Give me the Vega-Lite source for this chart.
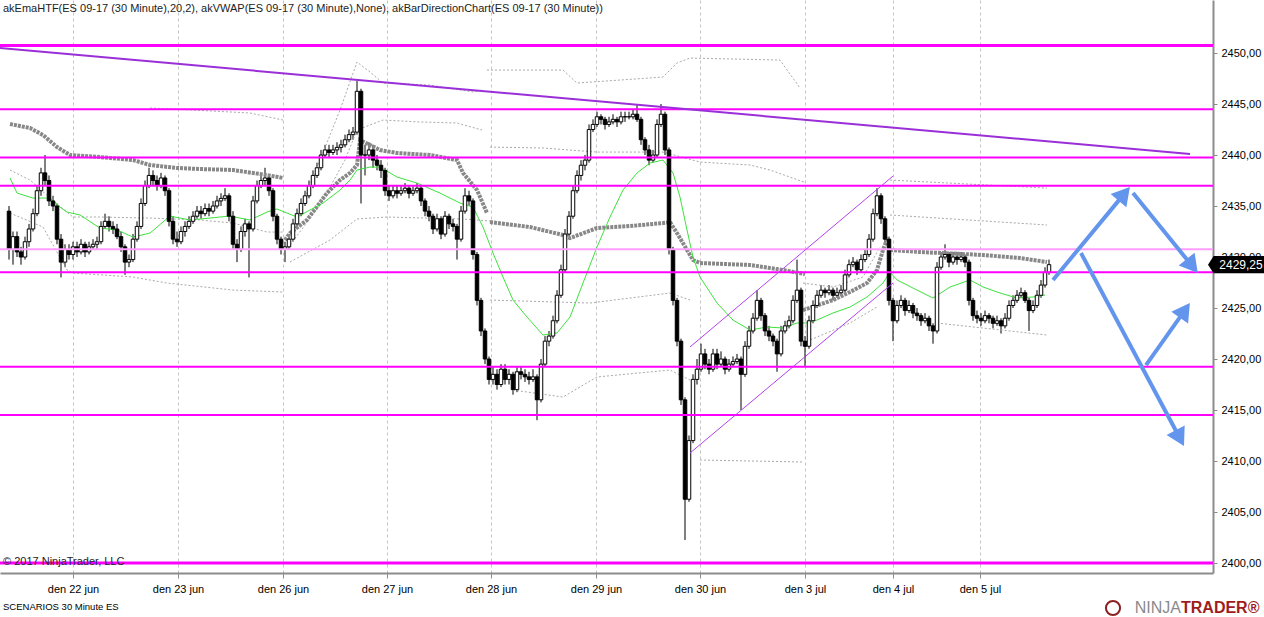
{
"$schema": "https://vega.github.io/schema/vega-lite/v6.json",
"width": 1213, "height": 573,
"autosize": "none",
"padding": {"left": 0, "top": 0, "right": 51, "bottom": 44},
"background": "white",
"config": {"font": "Liberation Sans", "view": {"stroke": null}, "scale": {"continuousPadding": 0}},
"datasets": {
"candles": [
{"i":-16,"o":2434.5,"h":2435,"l":2429.75,"c":2430.75},
{"i":-15,"o":2430.75,"h":2432.5,"l":2429.25,"c":2432},
{"i":-14,"o":2432,"h":2432.5,"l":2430,"c":2430.5},
{"i":-13,"o":2430.5,"h":2431,"l":2429.25,"c":2430},
{"i":-12,"o":2430,"h":2432,"l":2429.75,"c":2431.5},
{"i":-11,"o":2431.5,"h":2433.25,"l":2431,"c":2432.75},
{"i":-10,"o":2432.75,"h":2434.75,"l":2432.5,"c":2434.25},
{"i":-9,"o":2434.25,"h":2437,"l":2434,"c":2436.5},
{"i":-8,"o":2436.5,"h":2438.75,"l":2436,"c":2438.25},
{"i":-7,"o":2438.25,"h":2440,"l":2437,"c":2437.5},
{"i":-6,"o":2437.5,"h":2438,"l":2435,"c":2435.5},
{"i":-5,"o":2435.5,"h":2436,"l":2434.5,"c":2435},
{"i":-4,"o":2435,"h":2435.25,"l":2431.25,"c":2431.75},
{"i":-3,"o":2431.75,"h":2432.25,"l":2428,"c":2429.5},
{"i":-2,"o":2429.5,"h":2431.25,"l":2429,"c":2430.75},
{"i":-1,"o":2430.75,"h":2431.25,"l":2429.75,"c":2430.25},
{"i":0,"o":2430.25,"h":2431.5,"l":2429.75,"c":2431},
{"i":1,"o":2431,"h":2431.5,"l":2430,"c":2430.5},
{"i":2,"o":2430.5,"h":2431.75,"l":2430.25,"c":2431.25},
{"i":3,"o":2431.25,"h":2431.5,"l":2430,"c":2430.5},
{"i":4,"o":2430.5,"h":2431.5,"l":2430.25,"c":2431},
{"i":5,"o":2431,"h":2431.75,"l":2430.75,"c":2431.25},
{"i":6,"o":2431.25,"h":2432,"l":2430.75,"c":2431.5},
{"i":7,"o":2431.5,"h":2433.5,"l":2431.25,"c":2433},
{"i":8,"o":2433,"h":2434.25,"l":2432.75,"c":2433.5},
{"i":9,"o":2433.5,"h":2434,"l":2432.5,"c":2433},
{"i":10,"o":2433,"h":2433.5,"l":2432.25,"c":2432.75},
{"i":11,"o":2432.75,"h":2433.25,"l":2431.75,"c":2432},
{"i":12,"o":2432,"h":2432.5,"l":2430.5,"c":2431},
{"i":13,"o":2431,"h":2431.25,"l":2428.25,"c":2429.5},
{"i":14,"o":2429.5,"h":2430.25,"l":2429,"c":2429.75},
{"i":15,"o":2429.75,"h":2432.25,"l":2429.5,"c":2431.75},
{"i":16,"o":2431.75,"h":2433.5,"l":2431.5,"c":2433},
{"i":17,"o":2433,"h":2435.75,"l":2432.75,"c":2435.25},
{"i":18,"o":2435.25,"h":2437.5,"l":2435,"c":2437},
{"i":19,"o":2437,"h":2438.75,"l":2436.75,"c":2438},
{"i":20,"o":2438,"h":2438.5,"l":2437,"c":2437.5},
{"i":21,"o":2437.5,"h":2438,"l":2436.5,"c":2437},
{"i":22,"o":2437,"h":2438.25,"l":2436.75,"c":2437.75},
{"i":23,"o":2437.75,"h":2438,"l":2436,"c":2436.5},
{"i":24,"o":2436.5,"h":2436.75,"l":2433,"c":2433.5},
{"i":25,"o":2433.5,"h":2434,"l":2431.25,"c":2431.75},
{"i":26,"o":2431.75,"h":2432.5,"l":2431,"c":2431.5},
{"i":27,"o":2431.5,"h":2433,"l":2431.25,"c":2432.5},
{"i":28,"o":2432.5,"h":2433.5,"l":2432,"c":2433},
{"i":29,"o":2433,"h":2434,"l":2432.75,"c":2433.5},
{"i":30,"o":2433.5,"h":2434.5,"l":2433.25,"c":2434},
{"i":31,"o":2434,"h":2435,"l":2433.75,"c":2434.5},
{"i":32,"o":2434.5,"h":2435,"l":2433.75,"c":2434.25},
{"i":33,"o":2434.25,"h":2435.25,"l":2434,"c":2434.75},
{"i":34,"o":2434.75,"h":2435.25,"l":2434,"c":2434.5},
{"i":35,"o":2434.5,"h":2435.5,"l":2434.25,"c":2435},
{"i":36,"o":2435,"h":2436,"l":2434.75,"c":2435.5},
{"i":37,"o":2435.5,"h":2436.25,"l":2435,"c":2435.75},
{"i":38,"o":2435.75,"h":2436.75,"l":2435.5,"c":2436},
{"i":39,"o":2436,"h":2436.25,"l":2433.5,"c":2434},
{"i":40,"o":2434,"h":2434.5,"l":2430.75,"c":2431.25},
{"i":41,"o":2431.25,"h":2431.75,"l":2429.5,"c":2430.75},
{"i":42,"o":2430.75,"h":2433,"l":2430.5,"c":2432.5},
{"i":43,"o":2432.5,"h":2433.75,"l":2432,"c":2433.25},
{"i":44,"o":2433.25,"h":2433.5,"l":2428,"c":2432.75},
{"i":45,"o":2432.75,"h":2436,"l":2432.5,"c":2435.5},
{"i":46,"o":2435.5,"h":2437.5,"l":2435.25,"c":2437},
{"i":47,"o":2437,"h":2438,"l":2436.75,"c":2437.5},
{"i":48,"o":2437.5,"h":2438.75,"l":2437,"c":2437.75},
{"i":49,"o":2437.75,"h":2438,"l":2436,"c":2436.5},
{"i":50,"o":2436.5,"h":2436.75,"l":2433.5,"c":2434},
{"i":51,"o":2434,"h":2434.25,"l":2431.25,"c":2431.75},
{"i":52,"o":2431.75,"h":2432,"l":2430.25,"c":2430.75},
{"i":53,"o":2430.75,"h":2431.5,"l":2429.5,"c":2431},
{"i":54,"o":2431,"h":2432.25,"l":2430.75,"c":2431.75},
{"i":55,"o":2431.75,"h":2433.75,"l":2431.5,"c":2433.25},
{"i":56,"o":2433.25,"h":2434.75,"l":2433,"c":2434.25},
{"i":57,"o":2434.25,"h":2435.75,"l":2434,"c":2435.25},
{"i":58,"o":2435.25,"h":2436.5,"l":2435,"c":2436},
{"i":59,"o":2436,"h":2437.5,"l":2435.75,"c":2437},
{"i":60,"o":2437,"h":2438.5,"l":2436.75,"c":2438},
{"i":61,"o":2438,"h":2439.25,"l":2437.75,"c":2438.75},
{"i":62,"o":2438.75,"h":2440.5,"l":2438.5,"c":2440},
{"i":63,"o":2440,"h":2441,"l":2439.75,"c":2440.5},
{"i":64,"o":2440.5,"h":2441,"l":2439.75,"c":2440.25},
{"i":65,"o":2440.25,"h":2441,"l":2440,"c":2440.5},
{"i":66,"o":2440.5,"h":2441.25,"l":2440,"c":2440.75},
{"i":67,"o":2440.75,"h":2441.5,"l":2440.25,"c":2441},
{"i":68,"o":2441,"h":2442,"l":2440.75,"c":2441.5},
{"i":69,"o":2441.5,"h":2442.5,"l":2441.25,"c":2442},
{"i":70,"o":2442,"h":2442.75,"l":2441.5,"c":2442.25},
{"i":71,"o":2442.25,"h":2447.25,"l":2442,"c":2446.25},
{"i":72,"o":2446.25,"h":2446.5,"l":2435.25,"c":2440},
{"i":73,"o":2440,"h":2441,"l":2438,"c":2440},
{"i":74,"o":2440,"h":2441.25,"l":2439.5,"c":2440.5},
{"i":75,"o":2440.5,"h":2441,"l":2438.75,"c":2439.5},
{"i":76,"o":2439.5,"h":2440,"l":2438.5,"c":2439},
{"i":77,"o":2439,"h":2439.5,"l":2437.75,"c":2438.5},
{"i":78,"o":2438.5,"h":2438.75,"l":2436,"c":2436.5},
{"i":79,"o":2436.5,"h":2437,"l":2435.5,"c":2436},
{"i":80,"o":2436,"h":2437,"l":2435.75,"c":2436.5},
{"i":81,"o":2436.5,"h":2437,"l":2435.75,"c":2436.25},
{"i":82,"o":2436.25,"h":2437,"l":2436,"c":2436.5},
{"i":83,"o":2436.5,"h":2437.25,"l":2436.25,"c":2436.75},
{"i":84,"o":2436.75,"h":2437,"l":2435.75,"c":2436.25},
{"i":85,"o":2436.25,"h":2437,"l":2436,"c":2436.5},
{"i":86,"o":2436.5,"h":2437.25,"l":2436.25,"c":2436.75},
{"i":87,"o":2436.75,"h":2437,"l":2435,"c":2435.5},
{"i":88,"o":2435.5,"h":2435.75,"l":2434,"c":2434.5},
{"i":89,"o":2434.5,"h":2435,"l":2433.5,"c":2434},
{"i":90,"o":2434,"h":2434.25,"l":2432.25,"c":2432.75},
{"i":91,"o":2432.75,"h":2434.25,"l":2432.5,"c":2433.75},
{"i":92,"o":2433.75,"h":2434,"l":2431.75,"c":2432.25},
{"i":93,"o":2432.25,"h":2434.5,"l":2432,"c":2434},
{"i":94,"o":2434,"h":2434.25,"l":2432.75,"c":2433.25},
{"i":95,"o":2433.25,"h":2433.75,"l":2432.5,"c":2433},
{"i":96,"o":2433,"h":2433.25,"l":2429.75,"c":2431.75},
{"i":97,"o":2431.75,"h":2435,"l":2431.5,"c":2434.5},
{"i":98,"o":2434.5,"h":2436.75,"l":2434.25,"c":2436},
{"i":99,"o":2436,"h":2436.5,"l":2435,"c":2435.5},
{"i":100,"o":2435.5,"h":2435.75,"l":2429.75,"c":2430.25},
{"i":101,"o":2430.25,"h":2430.5,"l":2425.25,"c":2425.75},
{"i":102,"o":2425.75,"h":2426,"l":2422.25,"c":2422.75},
{"i":103,"o":2422.75,"h":2423,"l":2419.5,"c":2420},
{"i":104,"o":2420,"h":2420.25,"l":2417.5,"c":2418},
{"i":105,"o":2418,"h":2419.25,"l":2417.5,"c":2418.5},
{"i":106,"o":2418.5,"h":2419,"l":2417,"c":2417.5},
{"i":107,"o":2417.5,"h":2419.5,"l":2417.25,"c":2419},
{"i":108,"o":2419,"h":2419.5,"l":2417.5,"c":2418},
{"i":109,"o":2418,"h":2419,"l":2417.5,"c":2418.5},
{"i":110,"o":2418.5,"h":2418.75,"l":2416.5,"c":2417},
{"i":111,"o":2417,"h":2419.25,"l":2416.75,"c":2418.75},
{"i":112,"o":2418.75,"h":2419.25,"l":2418,"c":2418.5},
{"i":113,"o":2418.5,"h":2419,"l":2417.75,"c":2418.25},
{"i":114,"o":2418.25,"h":2418.75,"l":2417.5,"c":2418},
{"i":115,"o":2418,"h":2419,"l":2417.75,"c":2418.25},
{"i":116,"o":2418.25,"h":2418.5,"l":2414,"c":2416},
{"i":117,"o":2416,"h":2420,"l":2415.75,"c":2419.5},
{"i":118,"o":2419.5,"h":2422.25,"l":2419.25,"c":2421.75},
{"i":119,"o":2421.75,"h":2422.75,"l":2421.25,"c":2422.25},
{"i":120,"o":2422.25,"h":2424.25,"l":2422,"c":2423.75},
{"i":121,"o":2423.75,"h":2426.75,"l":2423.5,"c":2426.25},
{"i":122,"o":2426.25,"h":2429.25,"l":2426,"c":2428.75},
{"i":123,"o":2428.75,"h":2432.75,"l":2428.5,"c":2432.25},
{"i":124,"o":2432.25,"h":2434.5,"l":2432,"c":2434},
{"i":125,"o":2434,"h":2437,"l":2433.75,"c":2436.5},
{"i":126,"o":2436.5,"h":2438.5,"l":2436.25,"c":2438},
{"i":127,"o":2438,"h":2439.5,"l":2437.5,"c":2439},
{"i":128,"o":2439,"h":2440,"l":2438.5,"c":2439.5},
{"i":129,"o":2439.5,"h":2443,"l":2439.25,"c":2442.5},
{"i":130,"o":2442.5,"h":2443.5,"l":2442.25,"c":2443},
{"i":131,"o":2443,"h":2444.25,"l":2442.75,"c":2443.75},
{"i":132,"o":2443.75,"h":2444,"l":2443,"c":2443.5},
{"i":133,"o":2443.5,"h":2443.75,"l":2442.5,"c":2443},
{"i":134,"o":2443,"h":2443.75,"l":2442.75,"c":2443.25},
{"i":135,"o":2443.25,"h":2444,"l":2443,"c":2443.5},
{"i":136,"o":2443.5,"h":2443.75,"l":2442.75,"c":2443.25},
{"i":137,"o":2443.25,"h":2444.25,"l":2443,"c":2443.75},
{"i":138,"o":2443.75,"h":2444.25,"l":2443.25,"c":2443.75},
{"i":139,"o":2443.75,"h":2444.25,"l":2443.5,"c":2443.75},
{"i":140,"o":2443.75,"h":2444.5,"l":2443.5,"c":2444},
{"i":141,"o":2444,"h":2445,"l":2443.25,"c":2443.5},
{"i":142,"o":2443.5,"h":2443.75,"l":2441,"c":2441.5},
{"i":143,"o":2441.5,"h":2441.75,"l":2440,"c":2440.5},
{"i":144,"o":2440.5,"h":2441,"l":2439,"c":2439.5},
{"i":145,"o":2439.5,"h":2440.5,"l":2439.25,"c":2440},
{"i":146,"o":2440,"h":2443.5,"l":2439.75,"c":2443},
{"i":147,"o":2443,"h":2445,"l":2442.75,"c":2444},
{"i":148,"o":2444,"h":2444.25,"l":2440,"c":2440.5},
{"i":149,"o":2440.5,"h":2440.75,"l":2430.25,"c":2430.75},
{"i":150,"o":2430.75,"h":2431,"l":2425.25,"c":2425.75},
{"i":151,"o":2425.75,"h":2426,"l":2421.25,"c":2421.75},
{"i":152,"o":2421.75,"h":2422,"l":2415.5,"c":2416},
{"i":153,"o":2416,"h":2416.25,"l":2402.25,"c":2406.25},
{"i":154,"o":2406.25,"h":2412.5,"l":2406,"c":2412},
{"i":155,"o":2412,"h":2418.5,"l":2411.75,"c":2418},
{"i":156,"o":2418,"h":2420,"l":2417.5,"c":2419},
{"i":157,"o":2419,"h":2421.5,"l":2418.75,"c":2420.5},
{"i":158,"o":2420.5,"h":2421,"l":2419,"c":2419.5},
{"i":159,"o":2419.5,"h":2420,"l":2418.5,"c":2419},
{"i":160,"o":2419,"h":2421,"l":2418.75,"c":2420.5},
{"i":161,"o":2420.5,"h":2421,"l":2419,"c":2419.5},
{"i":162,"o":2419.5,"h":2420.75,"l":2419.25,"c":2420},
{"i":163,"o":2420,"h":2420.25,"l":2418.5,"c":2419},
{"i":164,"o":2419,"h":2420,"l":2418.75,"c":2419.5},
{"i":165,"o":2419.5,"h":2420.25,"l":2419.25,"c":2419.75},
{"i":166,"o":2419.75,"h":2420.5,"l":2419.5,"c":2420},
{"i":167,"o":2420,"h":2420.25,"l":2415,"c":2418.5},
{"i":168,"o":2418.5,"h":2421.75,"l":2418.25,"c":2421.25},
{"i":169,"o":2421.25,"h":2423.25,"l":2421,"c":2422.75},
{"i":170,"o":2422.75,"h":2424.5,"l":2422.5,"c":2424},
{"i":171,"o":2424,"h":2426.75,"l":2423.75,"c":2425.75},
{"i":172,"o":2425.75,"h":2426,"l":2423.75,"c":2424.25},
{"i":173,"o":2424.25,"h":2424.5,"l":2422.25,"c":2422.75},
{"i":174,"o":2422.75,"h":2423.25,"l":2421.75,"c":2422.25},
{"i":175,"o":2422.25,"h":2422.5,"l":2421.25,"c":2421.75},
{"i":176,"o":2421.75,"h":2422,"l":2418.75,"c":2420.5},
{"i":177,"o":2420.5,"h":2423.25,"l":2420.25,"c":2422.75},
{"i":178,"o":2422.75,"h":2423.75,"l":2422.5,"c":2423.25},
{"i":179,"o":2423.25,"h":2424.25,"l":2423,"c":2423.75},
{"i":180,"o":2423.75,"h":2426.25,"l":2423.5,"c":2425.75},
{"i":181,"o":2425.75,"h":2429.75,"l":2425.5,"c":2426.75},
{"i":182,"o":2426.75,"h":2427,"l":2421.25,"c":2421.75},
{"i":183,"o":2421.75,"h":2422.25,"l":2419.25,"c":2421.25},
{"i":184,"o":2421.25,"h":2424.25,"l":2421,"c":2423.75},
{"i":185,"o":2423.75,"h":2425.75,"l":2423.5,"c":2425.25},
{"i":186,"o":2425.25,"h":2426.75,"l":2425,"c":2426.25},
{"i":187,"o":2426.25,"h":2427.25,"l":2426,"c":2426.75},
{"i":188,"o":2426.75,"h":2427,"l":2426,"c":2426.5},
{"i":189,"o":2426.5,"h":2427.25,"l":2426.25,"c":2426.75},
{"i":190,"o":2426.75,"h":2427,"l":2425.75,"c":2426.25},
{"i":191,"o":2426.25,"h":2427,"l":2426,"c":2426.5},
{"i":192,"o":2426.5,"h":2427.25,"l":2426.25,"c":2426.75},
{"i":193,"o":2426.75,"h":2428.75,"l":2426.5,"c":2428.25},
{"i":194,"o":2428.25,"h":2429.75,"l":2428,"c":2429.25},
{"i":195,"o":2429.25,"h":2430,"l":2429,"c":2429.5},
{"i":196,"o":2429.5,"h":2429.75,"l":2428.25,"c":2428.75},
{"i":197,"o":2428.75,"h":2430.25,"l":2428.5,"c":2429.75},
{"i":198,"o":2429.75,"h":2430.75,"l":2429.5,"c":2430.25},
{"i":199,"o":2430.25,"h":2432.25,"l":2430,"c":2431.75},
{"i":200,"o":2431.75,"h":2434.75,"l":2431.5,"c":2434.25},
{"i":201,"o":2434.25,"h":2436.75,"l":2434,"c":2436},
{"i":202,"o":2436,"h":2436.25,"l":2433.25,"c":2433.75},
{"i":203,"o":2433.75,"h":2434,"l":2431.25,"c":2431.75},
{"i":204,"o":2431.75,"h":2432,"l":2425.25,"c":2425.75},
{"i":205,"o":2425.75,"h":2426,"l":2421.75,"c":2423.75},
{"i":206,"o":2423.75,"h":2425.75,"l":2423.5,"c":2425.25},
{"i":207,"o":2425.25,"h":2426.25,"l":2425,"c":2425.75},
{"i":208,"o":2425.75,"h":2426,"l":2424.25,"c":2424.75},
{"i":209,"o":2424.75,"h":2425.75,"l":2424.5,"c":2425.25},
{"i":210,"o":2425.25,"h":2425.5,"l":2424,"c":2424.5},
{"i":211,"o":2424.5,"h":2425,"l":2423.75,"c":2424.25},
{"i":212,"o":2424.25,"h":2424.5,"l":2423.25,"c":2423.75},
{"i":213,"o":2423.75,"h":2424.5,"l":2423.5,"c":2424},
{"i":214,"o":2424,"h":2424.25,"l":2422.75,"c":2423.25},
{"i":215,"o":2423.25,"h":2423.5,"l":2421.5,"c":2422.75},
{"i":216,"o":2422.75,"h":2429.5,"l":2422.5,"c":2429},
{"i":217,"o":2429,"h":2430.5,"l":2428.75,"c":2430},
{"i":218,"o":2430,"h":2431.25,"l":2429.75,"c":2430.25},
{"i":219,"o":2430.25,"h":2430.5,"l":2429,"c":2429.5},
{"i":220,"o":2429.5,"h":2430.5,"l":2429.25,"c":2430},
{"i":221,"o":2430,"h":2430.5,"l":2429.25,"c":2429.75},
{"i":222,"o":2429.75,"h":2430.5,"l":2429.5,"c":2430},
{"i":223,"o":2430,"h":2430.25,"l":2429,"c":2429.5},
{"i":224,"o":2429.5,"h":2429.75,"l":2425.25,"c":2425.75},
{"i":225,"o":2425.75,"h":2426,"l":2423.75,"c":2424.25},
{"i":226,"o":2424.25,"h":2424.75,"l":2423.5,"c":2424},
{"i":227,"o":2424,"h":2424.5,"l":2423.25,"c":2423.75},
{"i":228,"o":2423.75,"h":2424.75,"l":2423.5,"c":2424.25},
{"i":229,"o":2424.25,"h":2424.5,"l":2423.5,"c":2424},
{"i":230,"o":2424,"h":2424.25,"l":2423,"c":2423.5},
{"i":231,"o":2423.5,"h":2424.25,"l":2423.25,"c":2423.75},
{"i":232,"o":2423.75,"h":2424,"l":2422.5,"c":2423.25},
{"i":233,"o":2423.25,"h":2424.5,"l":2423,"c":2424},
{"i":234,"o":2424,"h":2425.75,"l":2423.75,"c":2425.25},
{"i":235,"o":2425.25,"h":2426.25,"l":2425,"c":2425.75},
{"i":236,"o":2425.75,"h":2426.75,"l":2425.5,"c":2426.25},
{"i":237,"o":2426.25,"h":2427,"l":2426,"c":2426.5},
{"i":238,"o":2426.5,"h":2426.75,"l":2425.5,"c":2425.75},
{"i":239,"o":2425.75,"h":2426,"l":2422.75,"c":2424.75},
{"i":240,"o":2424.75,"h":2425.75,"l":2424.5,"c":2425.25},
{"i":241,"o":2425.25,"h":2426.75,"l":2425,"c":2426.25},
{"i":242,"o":2426.25,"h":2427.75,"l":2426,"c":2427.25},
{"i":243,"o":2427.25,"h":2429,"l":2427,"c":2428.5},
{"i":244,"o":2428.5,"h":2429.75,"l":2428.25,"c":2429.25}
],
"ema": [
{"i":-15.75,"p":2437.75},{"i":-14,"p":2436.27},{"i":-10,"p":2435.78},{"i":-5.75,"p":2435.78},{"i":-3.25,"p":2434.9},{"i":-1.5,"p":2434.41},{"i":1.75,"p":2434.12},{"i":6.75,"p":2432.84},{"i":11,"p":2432.65},{"i":15,"p":2431.96},{"i":19.25,"p":2432.35},{"i":24.25,"p":2434.02},{"i":29.25,"p":2433.63},{"i":34.25,"p":2433.82},{"i":39.25,"p":2434.02},{"i":44.25,"p":2433.63},{"i":48.5,"p":2434.41},{"i":51,"p":2434.71},{"i":53.5,"p":2434.31},{"i":56,"p":2433.92},{"i":59.25,"p":2434.61},{"i":62.5,"p":2435.29},{"i":66.75,"p":2436.57},{"i":69.25,"p":2437.55},{"i":71,"p":2438.53},{"i":74.25,"p":2438.82},{"i":76.75,"p":2438.82},{"i":81,"p":2437.84},{"i":86,"p":2437.25},{"i":91.75,"p":2436.27},{"i":96.75,"p":2435.29},{"i":100,"p":2434.9},{"i":102.5,"p":2432.94},{"i":105,"p":2430.39},{"i":107.5,"p":2428.04},{"i":110,"p":2425.78},{"i":113.5,"p":2424.12},{"i":117.5,"p":2422.35},{"i":121,"p":2422.55},{"i":124.25,"p":2424.12},{"i":127.5,"p":2427.45},{"i":131,"p":2430.98},{"i":134.25,"p":2433.92},{"i":137.5,"p":2436.57},{"i":141,"p":2438.24},{"i":144.25,"p":2439.22},{"i":147.5,"p":2439.51},{"i":150,"p":2438.24},{"i":151.75,"p":2435.88},{"i":153.5,"p":2432.65},{"i":155,"p":2430},{"i":156.75,"p":2428.04},{"i":161,"p":2425.49},{"i":165,"p":2423.82},{"i":169.25,"p":2422.84},{"i":173.5,"p":2423.14},{"i":177.5,"p":2423.04},{"i":181,"p":2423.53},{"i":183.5,"p":2423.53},{"i":186,"p":2423.82},{"i":190,"p":2424.51},{"i":194.25,"p":2425.1},{"i":198.5,"p":2426.08},{"i":202.5,"p":2427.45},{"i":204.25,"p":2428.53},{"i":206,"p":2427.75},{"i":211,"p":2426.76},{"i":215,"p":2425.98},{"i":219.25,"p":2427.06},{"i":224.25,"p":2427.75},{"i":227.5,"p":2427.06},{"i":231.75,"p":2426.47},{"i":236,"p":2425.98},{"i":240,"p":2426.08},{"i":243,"p":2426.27}
],
"vwap": [
{"s":"v1","i":-15.75,"p":2443.04},{"s":"v1","i":-10.75,"p":2442.65},{"s":"v1","i":-7.5,"p":2441.96},{"s":"v1","i":-4,"p":2440.78},{"s":"v1","i":-0.75,"p":2440},{"s":"v1","i":6.75,"p":2439.8},{"s":"v1","i":15,"p":2439.51},{"s":"v1","i":19.25,"p":2439.02},{"s":"v1","i":26,"p":2438.73},{"s":"v1","i":31.75,"p":2438.63},{"s":"v1","i":40,"p":2438.53},{"s":"v1","i":45,"p":2438.24},{"s":"v1","i":48.5,"p":2438.04},{"s":"v1","i":52.5,"p":2437.75},
{"s":"v2","i":53,"p":2431.67},{"s":"v2","i":54.25,"p":2432.35},{"s":"v2","i":58.5,"p":2433.63},{"s":"v2","i":63.5,"p":2436.27},{"s":"v2","i":66.75,"p":2437.55},{"s":"v2","i":69.25,"p":2438.24},{"s":"v2","i":71,"p":2439.02},{"s":"v2","i":71.75,"p":2441.47},{"s":"v2","i":76.75,"p":2440.49},{"s":"v2","i":81,"p":2440.2},{"s":"v2","i":89.25,"p":2440},{"s":"v2","i":96,"p":2439.51},{"s":"v2","i":97.5,"p":2438.24},{"s":"v2","i":101,"p":2436.57},{"s":"v2","i":103.5,"p":2434.31},
{"s":"v3","i":104.25,"p":2433.43},{"s":"v3","i":114.25,"p":2432.94},{"s":"v3","i":122.5,"p":2432.16},{"s":"v3","i":124.25,"p":2431.86},{"s":"v3","i":131,"p":2432.84},{"s":"v3","i":139.25,"p":2433.04},{"s":"v3","i":147.5,"p":2433.33},{"s":"v3","i":149.25,"p":2433.43},{"s":"v3","i":151,"p":2432.35},{"s":"v3","i":153.5,"p":2430.69},{"s":"v3","i":155,"p":2429.71},{"s":"v3","i":156.75,"p":2429.41},{"s":"v3","i":169.25,"p":2429.22},{"s":"v3","i":177.5,"p":2428.73},{"s":"v3","i":183,"p":2428.33},
{"s":"v5","i":182.5,"p":2424.8},{"s":"v5","i":190,"p":2425.78},{"s":"v5","i":194.25,"p":2426.57},{"s":"v5","i":198.5,"p":2427.45},{"s":"v5","i":201,"p":2428.73},{"s":"v5","i":202.5,"p":2430.69},{"s":"v5","i":203.75,"p":2431.96},
{"s":"v6","i":204.25,"p":2430.69},{"s":"v6","i":211.75,"p":2430.49},{"s":"v6","i":227.5,"p":2430.2},{"s":"v6","i":236.75,"p":2429.9},{"s":"v6","i":243.5,"p":2429.51}
],
"bands": [
{"s":"b1","i":-15.75,"p":2438.53},{"s":"b1","i":-10.75,"p":2437.55},{"s":"b1","i":-5.75,"p":2435.78},{"s":"b1","i":0,"p":2433.92},{"s":"b1","i":6.75,"p":2433.92},{"s":"b1","i":19.25,"p":2433.82},{"s":"b1","i":31.75,"p":2433.63},{"s":"b1","i":40,"p":2433.33},{"s":"b1","i":48.5,"p":2432.45},{"s":"b1","i":52.5,"p":2432.45},
{"s":"b2","i":-15.75,"p":2434.31},{"s":"b2","i":-7.5,"p":2432.94},{"s":"b2","i":-1.5,"p":2428.73},{"s":"b2","i":0,"p":2428.43},{"s":"b2","i":15,"p":2428.04},{"s":"b2","i":23.5,"p":2427.45},{"s":"b2","i":40,"p":2426.76},{"s":"b2","i":52.5,"p":2426.57},
{"s":"b3","i":19.25,"p":2444.61},{"s":"b3","i":30,"p":2444.41},{"s":"b3","i":44.25,"p":2444.12},{"s":"b3","i":52.5,"p":2443.43},
{"s":"b4","i":54.25,"p":2432.16},{"s":"b4","i":56.75,"p":2434.61},{"s":"b4","i":61.75,"p":2439.51},{"s":"b4","i":66.75,"p":2444.41},{"s":"b4","i":71,"p":2449.12},{"s":"b4","i":74.25,"p":2448.14},{"s":"b4","i":77.5,"p":2447.06},{"s":"b4","i":89.25,"p":2446.86},{"s":"b4","i":100,"p":2446.18},{"s":"b4","i":102.25,"p":2446.37},
{"s":"b5","i":54.25,"p":2431.18},{"s":"b5","i":61.75,"p":2435.1},{"s":"b5","i":68,"p":2439.51},{"s":"b5","i":71,"p":2442.45},{"s":"b5","i":77.5,"p":2443.43},{"s":"b5","i":86.75,"p":2443.24},{"s":"b5","i":96,"p":2443.14},{"s":"b5","i":102.25,"p":2442.45},
{"s":"b6","i":54.25,"p":2429.51},{"s":"b6","i":64.25,"p":2431.67},{"s":"b6","i":71,"p":2433.73},{"s":"b6","i":78.5,"p":2433.92},{"s":"b6","i":97.5,"p":2433.73},{"s":"b6","i":104.25,"p":2433.53},
{"s":"b7","i":103.5,"p":2448.33},{"s":"b7","i":122.5,"p":2448.33},{"s":"b7","i":126,"p":2447.06},{"s":"b7","i":136.75,"p":2447.35},{"s":"b7","i":147.5,"p":2447.65},{"s":"b7","i":151,"p":2449.02},{"s":"b7","i":154.25,"p":2449.51},{"s":"b7","i":176.75,"p":2449.31},{"s":"b7","i":181.75,"p":2446.57},
{"s":"b8","i":104.25,"p":2440.78},{"s":"b8","i":117.5,"p":2440.69},{"s":"b8","i":131,"p":2440.29},{"s":"b8","i":147.5,"p":2440.29},{"s":"b8","i":156.75,"p":2439.31},{"s":"b8","i":169.25,"p":2439.02},{"s":"b8","i":174.25,"p":2438.53},{"s":"b8","i":182.75,"p":2437.35},
{"s":"b9","i":104.25,"p":2425.78},{"s":"b9","i":129.25,"p":2425.49},{"s":"b9","i":149.25,"p":2426.47},{"s":"b9","i":154.25,"p":2425.78},
{"s":"b10","i":110,"p":2416.96},{"s":"b10","i":122.5,"p":2416.27},{"s":"b10","i":131,"p":2418.24},{"s":"b10","i":149.25,"p":2418.92},{"s":"b10","i":154.25,"p":2417.94},
{"s":"b11","i":156.75,"p":2410.1},{"s":"b11","i":182.75,"p":2409.9},
{"s":"b12","i":182.5,"p":2427.45},{"s":"b12","i":190,"p":2427.06},{"s":"b12","i":197.5,"p":2428.04},{"s":"b12","i":201.75,"p":2430.98},
{"s":"b13","i":182.5,"p":2421.57},{"s":"b13","i":194.25,"p":2423.53},{"s":"b13","i":201,"p":2425.1},
{"s":"b14","i":204.25,"p":2437.55},{"s":"b14","i":243.5,"p":2436.76},
{"s":"b15","i":204.25,"p":2434.12},{"s":"b15","i":243.5,"p":2433.14},
{"s":"b17","i":216,"p":2423.53},{"s":"b17","i":243.5,"p":2422.35}
]
},
"layer": [
{
"data": {"name": "candles"},
"mark": {"type": "rule", "color": "black", "strokeWidth": 1},
"encoding": {
"x": {"field": "i", "type": "quantitative", "scale": {"domain": [-18.25, 285], "nice": false, "zero": false, "padding": 0},
"axis": {"title": null, "orient": "bottom", "values": [0, 26.25, 52.5, 78.5, 104.5, 130.75, 156.75, 183, 205, 226.75],
"labelExpr": "datum.value == 0 ? 'den 22 jun' : datum.value == 26.25 ? 'den 23 jun' : datum.value == 52.5 ? 'den 26 jun' : datum.value == 78.5 ? 'den 27 jun' : datum.value == 104.5 ? 'den 28 jun' : datum.value == 130.75 ? 'den 29 jun' : datum.value == 156.75 ? 'den 30 jun' : datum.value == 183 ? 'den 3 jul' : datum.value == 205 ? 'den 4 jul' : 'den 5 jul'",
"grid": true, "gridColor": "#c4c4c4", "gridDash": [3, 3], "gridWidth": 1,
"domainColor": "#8c8c8c", "domainWidth": 2, "tickColor": "#8c8c8c", "tickSize": 5,
"labelFontSize": 11, "labelColor": "#000000", "labelPadding": 5, "labelFlush": false, "labelOverlap": false}},
"y": {"field": "l", "type": "quantitative", "scale": {"domain": [2399.02, 2455.2], "nice": false, "zero": false, "padding": 0},
"axis": {"title": null, "orient": "right", "values": [2400, 2405, 2410, 2415, 2420, 2425, 2430, 2435, 2440, 2445, 2450],
"labelExpr": "replace(format(datum.value, '.2f'), '.', ',')",
"grid": false, "domainColor": "#8c8c8c", "domainWidth": 2, "tickColor": "#8c8c8c", "tickSize": 4,
"labelFontSize": 11, "labelColor": "#000000", "labelPadding": 4, "labelFlush": false, "labelOverlap": false}},
"y2": {"field": "h"}
}
},
{
"data": {"name": "bands"},
"mark": {"type": "line", "color": "#a9a9a9", "strokeWidth": 1, "strokeDash": [2, 2]},
"encoding": {
"x": {"field": "i", "type": "quantitative", "axis": {"title": null}},
"y": {"field": "p", "type": "quantitative", "axis": {"title": null}},
"detail": {"field": "s"}
}
},
{
"data": {"name": "vwap"},
"mark": {"type": "line", "color": "#888888", "strokeWidth": 4, "strokeDash": [3, 1]},
"encoding": {
"x": {"field": "i", "type": "quantitative", "axis": {"title": null}},
"y": {"field": "p", "type": "quantitative", "axis": {"title": null}},
"detail": {"field": "s"}
}
},
{
"data": {"name": "ema"},
"mark": {"type": "line", "color": "#3de23d", "strokeWidth": 1},
"encoding": {
"x": {"field": "i", "type": "quantitative", "axis": {"title": null}},
"y": {"field": "p", "type": "quantitative", "axis": {"title": null}}
}
},
{
"data": {"name": "candles"},
"mark": {"type": "bar", "size": 3.5, "stroke": "black", "strokeWidth": 1, "orient": "vertical"},
"encoding": {
"x": {"field": "i", "type": "quantitative", "axis": {"title": null}},
"y": {"field": "o", "type": "quantitative", "axis": {"title": null}},
"y2": {"field": "c"},
"fill": {"condition": {"test": "datum.c >= datum.o", "value": "#ffffff"}, "value": "#000000"}
}
},
{
"data": {"values": [{"v": 2444.5}, {"v": 2439.75}, {"v": 2437}, {"v": 2428.5}, {"v": 2419.25}, {"v": 2414.5}]},
"mark": {"type": "rule", "color": "#ff00ff", "strokeWidth": 2},
"encoding": {"y": {"field": "v", "type": "quantitative", "axis": {"title": null}}}
},
{
"data": {"values": [{"v": 2450.75}, {"v": 2400}]},
"mark": {"type": "rule", "color": "#ff00ff", "strokeWidth": 3},
"encoding": {"y": {"field": "v", "type": "quantitative", "axis": {"title": null}}}
},
{
"data": {"values": [{"v": 2430.75}]},
"mark": {"type": "rule", "color": "#ff9dff", "strokeWidth": 2},
"encoding": {"y": {"field": "v", "type": "quantitative", "axis": {"title": null}}}
},
{
"data": {"values": [{"i": -18.25, "p": 2450.49}, {"i": 279.25, "p": 2440.1}]},
"mark": {"type": "line", "color": "#9a2fd8", "strokeWidth": 2},
"encoding": {
"x": {"field": "i", "type": "quantitative", "axis": {"title": null}},
"y": {"field": "p", "type": "quantitative", "axis": {"title": null}}
}
},
{
"data": {"values": [{"s": "lo", "i": 154.25, "p": 2410.78}, {"s": "lo", "i": 205, "p": 2427.45}, {"s": "hi", "i": 154.25, "p": 2421.18}, {"s": "hi", "i": 205, "p": 2437.94}]},
"mark": {"type": "line", "color": "#b340f0", "strokeWidth": 1},
"encoding": {
"x": {"field": "i", "type": "quantitative", "axis": {"title": null}},
"y": {"field": "p", "type": "quantitative", "axis": {"title": null}},
"detail": {"field": "s"}
}
},
{
"data": {"values": [
{"a": "a1", "i": 245, "p": 2427.75}, {"a": "a1", "i": 262.8, "p": 2436.19},
{"a": "a2", "i": 265, "p": 2436.27}, {"a": "a2", "i": 279.8, "p": 2429.12},
{"a": "a3", "i": 252, "p": 2430.39}, {"a": "a3", "i": 276.7, "p": 2412.25},
{"a": "a4", "i": 268.25, "p": 2419.41}, {"a": "a4", "i": 277.95, "p": 2424.77}]},
"mark": {"type": "line", "color": "#6495ed", "strokeWidth": 4},
"encoding": {
"x": {"field": "i", "type": "quantitative", "axis": {"title": null}},
"y": {"field": "p", "type": "quantitative", "axis": {"title": null}},
"detail": {"field": "a"}
}
},
{
"data": {"values": [{"i": 262.8, "p": 2436.19}]},
"mark": {"type": "point", "shape": "triangle-up", "filled": true, "color": "#6495ed", "opacity": 1, "size": 420, "angle": 40},
"encoding": {
"x": {"field": "i", "type": "quantitative", "axis": {"title": null}},
"y": {"field": "p", "type": "quantitative", "axis": {"title": null}}
}
},
{
"data": {"values": [{"i": 279.8, "p": 2429.12}]},
"mark": {"type": "point", "shape": "triangle-up", "filled": true, "color": "#6495ed", "opacity": 1, "size": 420, "angle": 141},
"encoding": {
"x": {"field": "i", "type": "quantitative", "axis": {"title": null}},
"y": {"field": "p", "type": "quantitative", "axis": {"title": null}}
}
},
{
"data": {"values": [{"i": 276.7, "p": 2412.25}]},
"mark": {"type": "point", "shape": "triangle-up", "filled": true, "color": "#6495ed", "opacity": 1, "size": 420, "angle": 152},
"encoding": {
"x": {"field": "i", "type": "quantitative", "axis": {"title": null}},
"y": {"field": "p", "type": "quantitative", "axis": {"title": null}}
}
},
{
"data": {"values": [{"i": 277.95, "p": 2424.77}]},
"mark": {"type": "point", "shape": "triangle-up", "filled": true, "color": "#6495ed", "opacity": 1, "size": 420, "angle": 35},
"encoding": {
"x": {"field": "i", "type": "quantitative", "axis": {"title": null}},
"y": {"field": "p", "type": "quantitative", "axis": {"title": null}}
}
},
{
"data": {"values": [{"i": 285, "p": 2429.25}]},
"mark": {"type": "point", "shape": "M -1 0 L -0.8 -0.31 L 1 -0.31 L 1 0.31 L -0.8 0.31 Z", "filled": true, "color": "#000000", "opacity": 1, "size": 3136, "xOffset": 23, "clip": false},
"encoding": {
"x": {"field": "i", "type": "quantitative", "axis": {"title": null}},
"y": {"field": "p", "type": "quantitative", "axis": {"title": null}}
}
},
{
"data": {"values": [{"i": 285, "p": 2429.25, "t": "2429,25"}]},
"mark": {"type": "text", "color": "#ffffff", "fontSize": 12, "align": "center", "baseline": "middle", "xOffset": 28},
"encoding": {
"x": {"field": "i", "type": "quantitative", "axis": {"title": null}},
"y": {"field": "p", "type": "quantitative", "axis": {"title": null}},
"text": {"field": "t"}
}
},
{
"data": {"values": [
{"i": -18.25, "p": 2454.3, "t": "akEmaHTF(ES 09-17 (30 Minute),20,2), akVWAP(ES 09-17 (30 Minute),None), akBarDirectionChart(ES 09-17 (30 Minute))"},
{"i": -18.25, "p": 2400.1, "t": "© 2017 NinjaTrader, LLC"}]},
"mark": {"type": "text", "color": "#222222", "fontSize": 11, "align": "left", "baseline": "middle", "xOffset": 3},
"encoding": {
"x": {"field": "i", "type": "quantitative", "axis": {"title": null}},
"y": {"field": "p", "type": "quantitative", "axis": {"title": null}},
"text": {"field": "t"}
}
},
{
"data": {"values": [{"i": -18.25, "p": 2395.69, "t": "SCENARIOS 30 Minute ES"}]},
"mark": {"type": "text", "color": "#000000", "fontSize": 9.5, "align": "left", "baseline": "middle", "xOffset": 3, "clip": false},
"encoding": {
"x": {"field": "i", "type": "quantitative", "axis": {"title": null}},
"y": {"field": "p", "type": "quantitative", "axis": {"title": null}},
"text": {"field": "t"}
}
},
{
"data": {"values": [{"i": 277, "p": 2395.59, "t": "NINJA"}]},
"mark": {"type": "text", "color": "#8a8a8a", "fontSize": 16, "align": "right", "baseline": "middle", "clip": false},
"encoding": {
"x": {"field": "i", "type": "quantitative", "axis": {"title": null}},
"y": {"field": "p", "type": "quantitative", "axis": {"title": null}},
"text": {"field": "t"}
}
},
{
"data": {"values": [{"i": 277, "p": 2395.59, "t": "TRADER®"}]},
"mark": {"type": "text", "color": "#a01c1c", "fontSize": 16, "fontWeight": "bold", "align": "left", "baseline": "middle", "clip": false},
"encoding": {
"x": {"field": "i", "type": "quantitative", "axis": {"title": null}},
"y": {"field": "p", "type": "quantitative", "axis": {"title": null}},
"text": {"field": "t"}
}
},
{
"data": {"values": [{"i": 260, "p": 2395.59}]},
"mark": {"type": "point", "shape": "circle", "filled": false, "color": "#8a2020", "strokeWidth": 2, "size": 200, "opacity": 1, "clip": false},
"encoding": {
"x": {"field": "i", "type": "quantitative", "axis": {"title": null}},
"y": {"field": "p", "type": "quantitative", "axis": {"title": null}}
}
}
]
}
